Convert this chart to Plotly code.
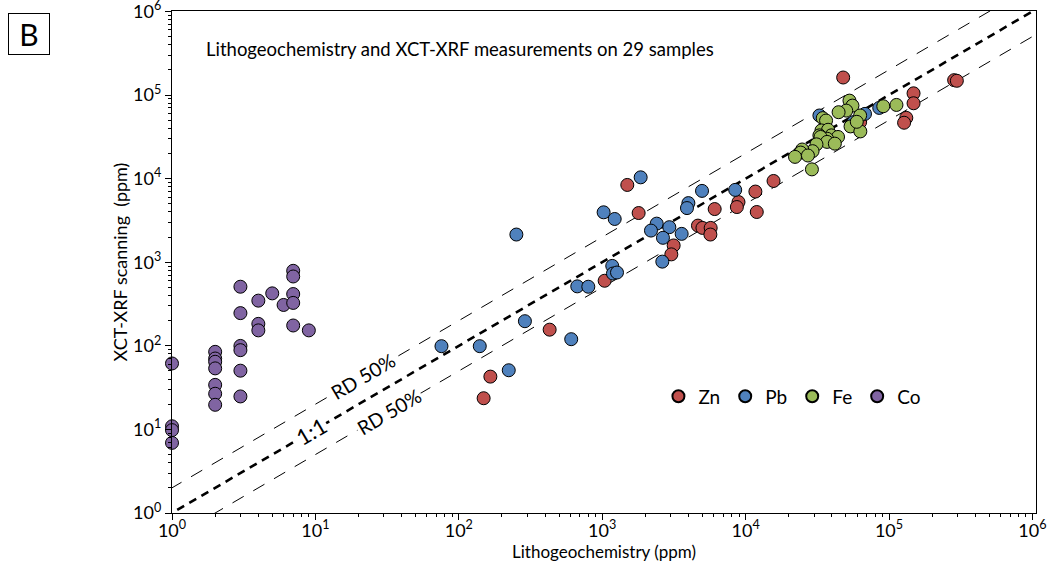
import plotly.graph_objects as go

# ---- data (ppm) ----
zn_litho = [1496, 1795, 6085, 4653, 5000, 5706, 5680, 3149, 3034, 1040, 430, 166, 149,
            47900, 284600, 297200, 148300, 148300, 132000, 127400, 62900, 54700,
            15660, 11700, 8920, 8690, 11960]
zn_xrf = [8400, 3875, 4323, 2740, 2572, 2572, 2143, 1586, 1241, 600, 156, 42.8, 23.6,
          162000, 150600, 148000, 104800, 79700, 53300, 46600, 47400, 43300,
          9370, 7000, 5240, 4570, 3985]

pb_litho = [1854, 1023, 1222, 252, 4966, 3990, 3900, 2399, 2188, 2939, 2652, 3581, 2625,
            1175, 1188, 1268, 670, 800, 289, 608, 75.7, 140, 223,
            8460, 85500, 32700, 68000, 56500]
pb_xrf = [10360, 3953, 3289, 2143, 7130, 5093, 4443, 2893, 2390, 2624, 1959, 2183, 1016,
          903, 732, 753, 514, 509, 197, 120, 99, 99, 51,
          7330, 70100, 56900, 59500, 47400]

fe_litho = [53000, 55600, 50300, 44500, 91200, 112700, 34500, 36400, 62900, 53900, 63100,
            33800, 37600, 32700, 39600, 44100, 37000, 33300, 37000, 31200, 29300, 24800,
            24200, 22100, 29000, 27200, 41900, 59600]
fe_xrf = [85700, 74700, 65100, 62300, 73400, 76100, 52900, 49500, 56900, 42100, 36700,
          37700, 38400, 32900, 32900, 31500, 30000, 31500, 27500, 25700, 21300, 22300,
          20500, 18200, 12900, 18900, 26200, 47800]

co_litho = [1, 1, 1, 1,
            2, 2, 2, 2, 2, 2, 2,
            3, 3, 3, 3, 3, 3,
            4, 4, 4,
            5, 6,
            7, 7, 7, 7, 7,
            9]
co_xrf = [61.5, 10.9, 9.8, 6.9,
          84.7, 70.5, 64.4, 53.7, 34.1, 26.7, 19.7,
          509, 246, 99.7, 88.7, 50.4, 24.8,
          347, 183, 153,
          424, 308,
          789, 675, 416, 326, 175,
          153]

ref_x = [0.5, 2e6]            # extent of reference lines
ref_ratios = [1.0, 2.0, 0.5]  # 1:1 and RD 50% bounds

series = [
    ("Zn", zn_litho, zn_xrf, "#C0504D"),
    ("Pb", pb_litho, pb_xrf, "#4F81BD"),
    ("Fe", fe_litho, fe_xrf, "#9BBB59"),
    ("Co", co_litho, co_xrf, "#8064A2"),
]

FONT = "Lato"
X_RANGE = [0, 6.025]
Y_RANGE = [0, 6.005]
fig = go.Figure()

for r in ref_ratios:
    is_main = (r == 1.0)
    fig.add_trace(go.Scatter(
        x=ref_x, y=[v * r for v in ref_x], mode="lines",
        line=dict(color="black", width=2.6 if is_main else 1,
                  dash="8px,6px" if is_main else "13px,11px"),
        showlegend=False, hoverinfo="skip"))

for name, xs, ys, col in series:
    fig.add_trace(go.Scatter(
        x=xs, y=ys, mode="markers", name=name,
        marker=dict(size=13, color=col, line=dict(color="black", width=1)),
        cliponaxis=False))

# invisible trace hosting the minor-tick axes
fig.add_trace(go.Scatter(x=[10], y=[10], xaxis="x2", yaxis="y2", mode="markers",
                         marker=dict(opacity=0), showlegend=False, hoverinfo="skip"))

tick_vals = [10 ** k for k in range(7)]
tick_text = [f"10<sup>{k}</sup>" for k in range(7)]
minor_vals = [m * 10 ** k for k in range(6) for m in range(2, 10)]

axis_common = dict(
    type="log", showgrid=False, zeroline=False,
    showline=True, linecolor="black", linewidth=1.2, mirror=True,
    ticks="outside", ticklen=6, tickcolor="black",
    tickmode="array", tickvals=tick_vals, ticktext=tick_text,
    tickfont=dict(family=FONT, size=18, color="black"),
    ticklabeloverflow="allow", automargin=False,
)
minor_common = dict(
    type="log", showgrid=False, zeroline=False, showline=False,
    ticks="outside", ticklen=3, tickcolor="black",
    tickmode="array", tickvals=minor_vals, showticklabels=False,
)

fig.update_layout(
    width=1055, height=571,
    margin=dict(l=172, r=19, t=11, b=58),
    paper_bgcolor="white", plot_bgcolor="white",
    font=dict(family=FONT, color="black"),
    xaxis=dict(range=X_RANGE,
               title=dict(text="Lithogeochemistry (ppm)", font=dict(size=17), standoff=1),
               ticklabelstandoff=-5,
               **axis_common),
    yaxis=dict(range=Y_RANGE,
               title=dict(text="XCT-XRF scanning  (ppm)", font=dict(size=18), standoff=0),
               **axis_common),
    xaxis2=dict(range=X_RANGE, overlaying="x", side="bottom", anchor="y2", **minor_common),
    yaxis2=dict(range=Y_RANGE, overlaying="y", side="left", anchor="x2", **minor_common),
    legend=dict(orientation="h", x=0.563, y=0.27, xanchor="left", yanchor="top",
                font=dict(family=FONT, size=19), bgcolor="rgba(0,0,0,0)",
                itemsizing="constant"),
    showlegend=True,
)

angle = -30.5
fig.add_annotation(x=0.97, y=0.97, xref="x", yref="y", text="1:1", showarrow=False,
                   textangle=angle, font=dict(size=22), bgcolor="white")
fig.add_annotation(x=1.33, y=1.631, xref="x", yref="y", text="RD 50%", showarrow=False,
                   textangle=angle, font=dict(size=19.5), bgcolor="white")
fig.add_annotation(x=1.516, y=1.215, xref="x", yref="y", text="RD 50%", showarrow=False,
                   textangle=angle, font=dict(size=19.5), bgcolor="white")

fig.add_annotation(x=0.037, y=0.924, xref="paper", yref="paper", xanchor="left",
                   yanchor="middle",
                   text="Lithogeochemistry and XCT-XRF measurements on 29 samples",
                   showarrow=False, font=dict(size=18.5))

fig.add_annotation(x=-0.1655, y=0.954, xref="paper", yref="paper",
                   xanchor="center", yanchor="middle",
                   text="B", showarrow=False, font=dict(size=30),
                   width=40, height=40, bordercolor="black", borderwidth=1, borderpad=0)

fig.write_html("out.html", config={"displayModeBar": False},
               post_script="document.body.style.margin='0';")
